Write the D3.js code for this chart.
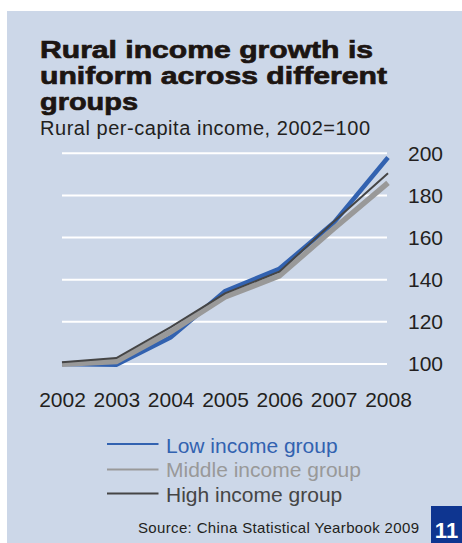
<!DOCTYPE html>
<html>
<head>
<meta charset="utf-8">
<script src="https://cdn.jsdelivr.net/npm/d3@7"></script>
<style>
  html, body { margin: 0; padding: 0; background: #ffffff; }
  svg { display: block; }
</style>
</head>
<body>
<svg id="chart" width="462" height="543"></svg>
<script>
// Rural per-capita income index by income group (2002 = 100)
const years = ["2002", "2003", "2004", "2005", "2006", "2007", "2008"];
const lowIncome    = [100.0, 99.6, 112.7, 134.5, 145.2, 167.0, 198.0];
const middleIncome = [99.9, 101.2, 115.3, 131.8, 141.8, 164.2, 186.0];
const highIncome   = [100.8, 102.8, 117.5, 133.5, 143.8, 167.5, 190.5];
const yTicks = [100, 120, 140, 160, 180, 200];
const seriesNames = ["Low income group", "Middle income group", "High income group"];

const titleLines = ["Rural income growth is", "uniform across different", "groups"];
const subtitle = "Rural per-capita income, 2002=100";
const sourceNote = "Source: China Statistical Yearbook  2009";
const pageNumber = "11";

const svg = d3.select("#chart");
const font = "'Liberation Sans', Arial, Helvetica, sans-serif";

// panel background
svg.append("rect")
  .attr("x", 7).attr("y", 11)
  .attr("width", 455).attr("height", 532)
  .attr("fill", "#ccd7e8");

// title
const titleBaselines = [57.5, 83.5, 110];
const titleWidths = [333, 347, 98];
titleLines.forEach((t, i) => {
  svg.append("text")
    .attr("x", 40).attr("y", titleBaselines[i])
    .attr("font-family", font)
    .attr("font-weight", "bold")
    .attr("font-size", 24)
    .attr("fill", "#1c1512")
    .attr("stroke", "#1c1512")
    .attr("stroke-width", 0.7)
    .attr("textLength", titleWidths[i])
    .attr("lengthAdjust", "spacingAndGlyphs")
    .text(t);
});

svg.append("text")
  .attr("x", 40).attr("y", 134.5)
  .attr("font-family", font)
  .attr("font-size", 20)
  .attr("fill", "#231f20")
  .attr("textLength", 330)
  .attr("lengthAdjust", "spacing")
  .text(subtitle);

// scales
const x = d3.scalePoint().domain(years).range([62, 388]);
const y = d3.scaleLinear().domain([100, 200]).range([364, 153.3]);

// horizontal gridlines
svg.append("g")
  .selectAll("line")
  .data(yTicks)
  .join("line")
  .attr("x1", 62).attr("x2", 387)
  .attr("y1", d => y(d)).attr("y2", d => y(d))
  .attr("stroke", "#ffffff")
  .attr("stroke-width", 2);

// right-hand value axis
const yAxis = svg.append("g")
  .attr("transform", "translate(400,0)")
  .call(d3.axisRight(y).tickValues(yTicks).tickSize(0).tickPadding(8));
yAxis.select(".domain").remove();
yAxis.selectAll("text")
  .attr("font-family", font)
  .attr("font-size", 21)
  .attr("fill", "#231f20");

// year axis
const xAxis = svg.append("g")
  .attr("transform", "translate(0,384)")
  .call(d3.axisBottom(x).tickSize(0).tickPadding(8));
xAxis.select(".domain").remove();
xAxis.selectAll("text")
  .attr("font-family", font)
  .attr("font-size", 21)
  .attr("fill", "#231f20");

// series lines
const series = [
  { name: seriesNames[0], values: lowIncome,    color: "#3262b0", width: 4.5, legendWidth: 2 },
  { name: seriesNames[1], values: middleIncome, color: "#999999", width: 5.5, legendWidth: 2 },
  { name: seriesNames[2], values: highIncome,   color: "#454545", width: 2,   legendWidth: 2 }
];

const line = d3.line()
  .x((d, i) => x(years[i]))
  .y(d => y(d));

svg.append("g")
  .selectAll("path")
  .data(series)
  .join("path")
  .attr("d", d => line(d.values))
  .attr("fill", "none")
  .attr("stroke", d => d.color)
  .attr("stroke-width", d => d.width)
  .attr("stroke-linejoin", "miter");

// legend
const legendBaselines = [452.7, 476.5, 501.7];
const legendLineY = [444, 469.5, 493.5];
const legend = svg.append("g");
series.forEach((s, i) => {
  legend.append("line")
    .attr("x1", 107).attr("x2", 158.5)
    .attr("y1", legendLineY[i]).attr("y2", legendLineY[i])
    .attr("stroke", s.color)
    .attr("stroke-width", s.legendWidth);
  legend.append("text")
    .attr("x", 166).attr("y", legendBaselines[i])
    .attr("font-family", font)
    .attr("font-size", 21)
    .attr("fill", s.color)
    .text(s.name);
});

// source note
svg.append("text")
  .attr("x", 138).attr("y", 533.3)
  .attr("font-family", font)
  .attr("font-size", 15)
  .attr("fill", "#231f20")
  .attr("textLength", 281)
  .attr("lengthAdjust", "spacing")
  .text(sourceNote);

// page number tab
svg.append("rect")
  .attr("x", 431).attr("y", 506)
  .attr("width", 31).attr("height", 37)
  .attr("fill", "#0e3590");
svg.append("text")
  .attr("x", 446.5).attr("y", 537.5)
  .attr("text-anchor", "middle")
  .attr("font-family", font)
  .attr("font-weight", "bold")
  .attr("font-size", 22)
  .attr("fill", "#ffffff")
  .text(pageNumber);
</script>
</body>
</html>
